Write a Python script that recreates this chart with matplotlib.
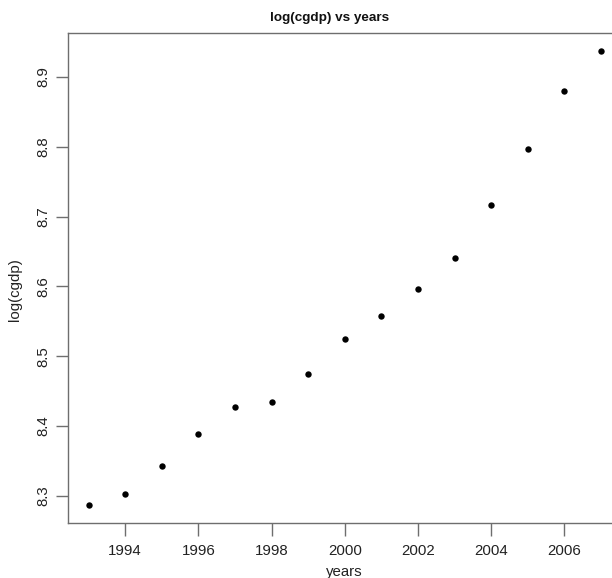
import numpy as np
import matplotlib.pyplot as plt

plt.rcParams['font.family'] = ['Liberation Sans', 'DejaVu Sans']

years = [1993, 1994, 1995, 1996, 1997, 1998, 1999, 2000,
         2001, 2002, 2003, 2004, 2005, 2006, 2007]
log_cgdp = [8.287, 8.302, 8.342, 8.389, 8.427, 8.434, 8.475, 8.525,
            8.558, 8.596, 8.641, 8.716, 8.797, 8.880, 8.937]
xticks = [1994, 1996, 1998, 2000, 2002, 2004, 2006]
yticks = [8.3, 8.4, 8.5, 8.6, 8.7, 8.8, 8.9]

W, H = 612, 578
fig = plt.figure(figsize=(W / 100, H / 100), dpi=100)
# plot region runs past the right edge, as in the original
ax = fig.add_axes([68 / W, (H - 523) / H, 553.5 / W, 490 / H])

ax.plot(years, log_cgdp, 'o', color='black', markersize=4.6, markeredgewidth=0)

# R style 4% padding
def pad(v):
    lo, hi = min(v), max(v)
    d = (hi - lo) * 0.04
    return lo - d, hi + d

ax.set_xlim(*pad(years))
ax.set_ylim(*pad(log_cgdp))

ax.set_xticks(xticks)
ax.set_yticks(yticks)
ax.set_xticklabels([str(t) for t in xticks])
ax.set_yticklabels([f"{t:.1f}" for t in yticks], rotation=90, va='center')

grey = '#6e6e6e'
for s in ['left', 'top', 'bottom', 'right']:
    ax.spines[s].set_color(grey)
    ax.spines[s].set_linewidth(1.0)
ax.tick_params(axis='both', direction='out', length=9, width=1.0, color=grey,
               labelsize=10.8, labelcolor='#222222')
ax.tick_params(axis='x', pad=6)
ax.tick_params(axis='y', pad=4)

fig.text(330 / W, 1 - 18 / H, 'log(cgdp) vs years', ha='center', va='center',
         fontsize=9.7, fontweight='bold', color='#111111')
fig.text(344 / W, 1 - 572 / H, 'years', ha='center', va='center',
         fontsize=10.8, color='#222222')
fig.text(15 / W, 1 - 290 / H, 'log(cgdp)', ha='center', va='center',
         rotation=90, fontsize=10.8, color='#222222')

fig.savefig('out.png', dpi=100)
